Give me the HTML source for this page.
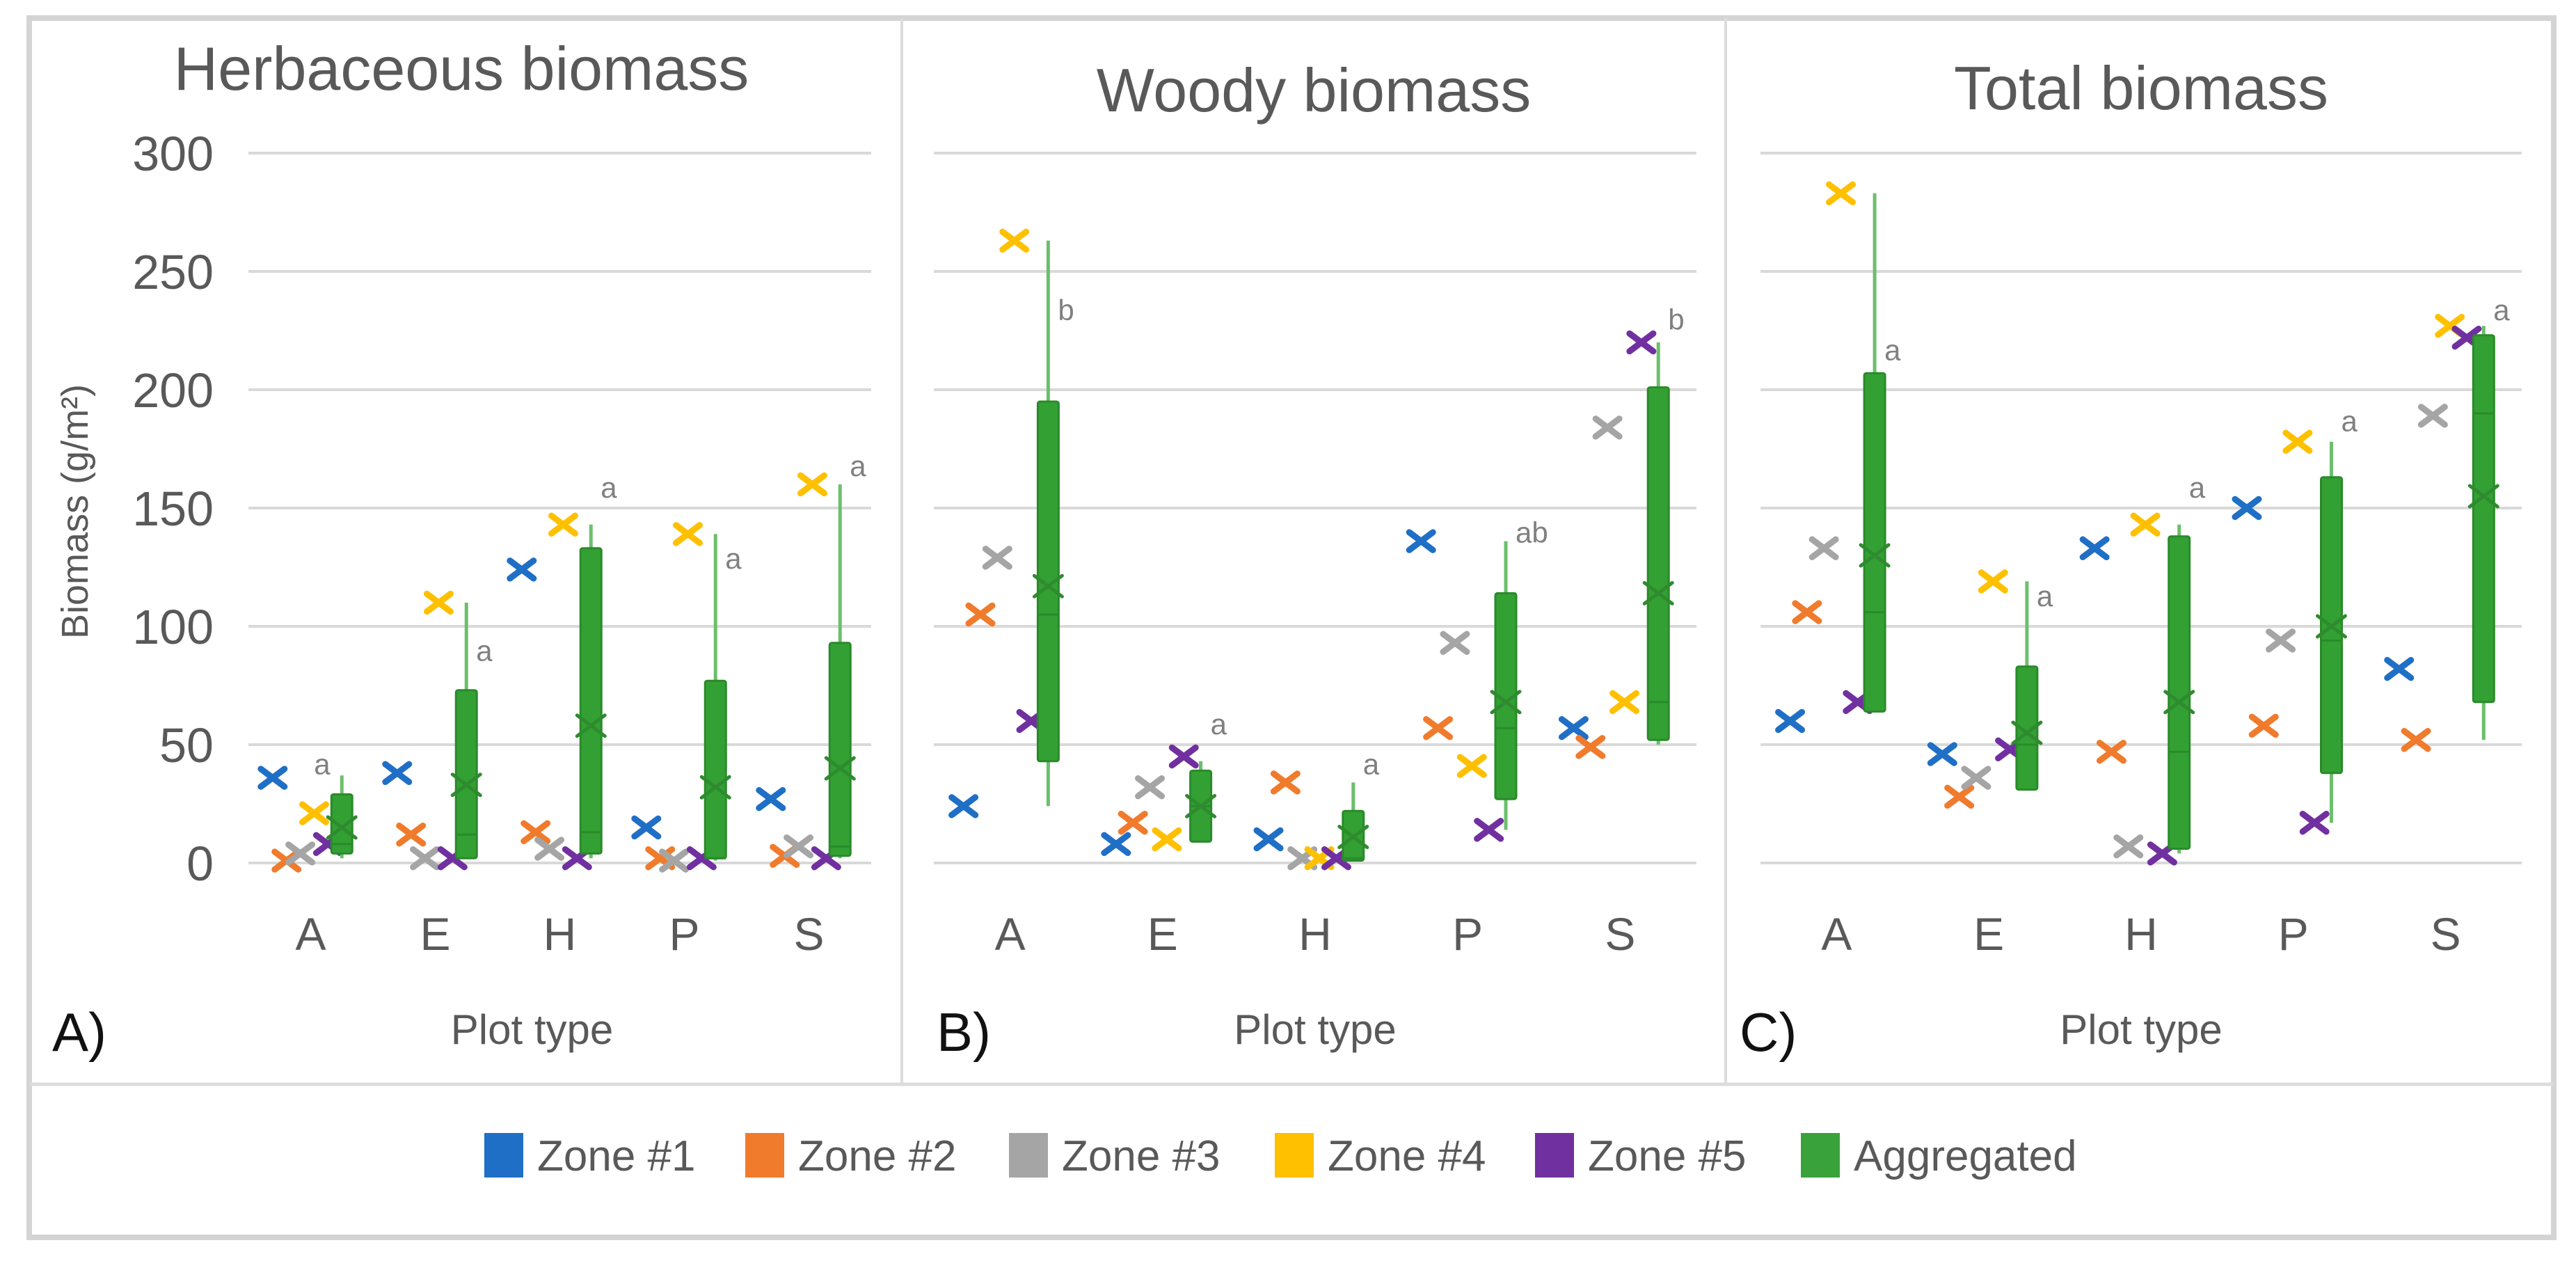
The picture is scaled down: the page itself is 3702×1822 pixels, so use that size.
<!DOCTYPE html>
<html><head><meta charset="utf-8">
<style>
html,body{margin:0;padding:0;background:#fff;}
svg{display:block;font-family:"Liberation Sans",sans-serif;}
</style></head>
<body>
<svg id="chart" width="3702" height="1822" viewBox="0 0 3702 1822" xmlns="http://www.w3.org/2000/svg">
  <rect x="0" y="0" width="3702" height="1822" fill="#fff"/>
  <rect x="42" y="26" width="3628" height="1752" fill="none" stroke="#d4d4d4" stroke-width="8"/>
  <line x1="1296" y1="26" x2="1296" y2="1556" stroke="#dcdcdc" stroke-width="4"/>
  <line x1="2480" y1="26" x2="2480" y2="1556" stroke="#dcdcdc" stroke-width="4"/>
  <line x1="42" y1="1558" x2="3670" y2="1558" stroke="#dcdcdc" stroke-width="5"/>
  <g id="panels"></g>
  <g id="legend"></g>
</svg>
<script>
// ---- data ----
const categories = ["A","E","H","P","S"];
const zoneNames = ["Zone #1","Zone #2","Zone #3","Zone #4","Zone #5","Aggregated"];
const zoneColors = ["#1f6fc6","#f07b2c","#a5a5a5","#ffc000","#7030a0","#3aa23a"];
const yTicks = [0,50,100,150,200,250,300];

// Herbaceous
const herbZ1 = [36,38,124,15,27];
const herbZ2 = [1,12,13,2,3];
const herbZ3 = [4,2,6,1,7];
const herbZ4 = [21,110,143,139,160];
const herbZ5 = [8,2,2,2,2];
const herbQ1 = [4,2,4,2,3];
const herbQ3 = [29,73,133,77,93];
const herbMin = [2,2,2,1,2];
const herbMax = [37,110,143,139,160];
const herbMean = [15,33,58,32,40];
const herbMedian = [8,12,13,2,7];
const herbLetters = ["a","a","a","a","a"];
const herbLetterVal = [41,89,158,128,167];

// Woody
const woodZ1 = [24,8,10,136,57];
const woodZ2 = [105,17,34,57,49];
const woodZ3 = [129,32,2,93,184];
const woodZ4 = [263,10,2,41,68];
const woodZ5 = [60,45,2,14,220];
const woodQ1 = [43,9,1,27,52];
const woodQ3 = [195,39,22,114,201];
const woodMin = [24,9,1,14,50];
const woodMax = [263,43,34,136,220];
const woodMean = [117,24,11,68,114];
const woodMedian = [105,24,2,57,68];
const woodLetters = ["b","a","a","ab","b"];
const woodLetterVal = [233,58,41,139,229];

// Total
const totZ1 = [60,46,133,150,82];
const totZ2 = [106,28,47,58,52];
const totZ3 = [133,36,7,94,189];
const totZ4 = [283,119,143,178,227];
const totZ5 = [68,48,4,17,222];
const totQ1 = [64,31,6,38,68];
const totQ3 = [207,83,138,163,223];
const totMin = [64,31,4,17,52];
const totMax = [283,119,143,178,227];
const totMean = [130,55,68,100,155];
const totMedian = [106,50,47,94,190];
const totLetters = ["a","a","a","a","a"];
const totLetterVal = [216,112,158,186,233];

const NS = "http://www.w3.org/2000/svg";
function mk(tag, attrs, parent){
  const e = document.createElementNS(NS, tag);
  for (const k in attrs) e.setAttribute(k, attrs[k]);
  parent.appendChild(e);
  return e;
}
const panelsG = document.getElementById("panels");

const panels = [
  {name:"herbaceous", title:"Herbaceous biomass", tag:"A)", x0:357, x1:1252, titleX:663, titleY:129, tagX:75, showY:true,
   zones:[herbZ1,herbZ2,herbZ3,herbZ4,herbZ5], q1:herbQ1,q3:herbQ3,mn:herbMin,mx:herbMax,mean:herbMean,med:herbMedian,letters:herbLetters,letterVal:herbLetterVal, letterLeftFirst:true},
  {name:"woody", title:"Woody biomass", tag:"B)", x0:1342, x1:2438, titleX:1888, titleY:160, tagX:1346, showY:false,
   zones:[woodZ1,woodZ2,woodZ3,woodZ4,woodZ5], q1:woodQ1,q3:woodQ3,mn:woodMin,mx:woodMax,mean:woodMean,med:woodMedian,letters:woodLetters,letterVal:woodLetterVal},
  {name:"total", title:"Total biomass", tag:"C)", x0:2530, x1:3624, titleX:3077, titleY:157, tagX:2500, showY:false,
   zones:[totZ1,totZ2,totZ3,totZ4,totZ5], q1:totQ1,q3:totQ3,mn:totMin,mx:totMax,mean:totMean,med:totMedian,letters:totLetters,letterVal:totLetterVal}
];
const yTop = 220, yBot = 1240;
function yScale(v){ return yBot - (v/300)*(yBot-yTop); }

function xMark(g, cx, cy, h, color, sw, name){
  const m = mk("g", {}, g);
  
  
  mk("line",{x1:cx-h,y1:cy-h*0.75,x2:cx+h,y2:cy+h*0.75,stroke:color,"stroke-width":sw,"stroke-linecap":"round"},m);
  mk("line",{x1:cx-h,y1:cy+h*0.75,x2:cx+h,y2:cy-h*0.75,stroke:color,"stroke-width":sw,"stroke-linecap":"round"},m);
  return m;
}

panels.forEach(p=>{
  const g = mk("g",{},panelsG);
  
  
  const band = (p.x1-p.x0)/categories.length;
  const xCat = i => p.x0 + band*(i+0.5);
  const step = band/9;
  yTicks.forEach(t=>{
    const l = mk("line",{x1:p.x0,x2:p.x1,y1:yScale(t),y2:yScale(t),stroke:"#d9d9d9","stroke-width":4},g);
    
    
    if (p.showY){
      const tx = mk("text",{x:307,y:yScale(t)+25,"text-anchor":"end","font-size":70,fill:"#595959"},g);
      tx.textContent = t;
      
      
    }
  });
  if (p.showY){
    const yt = mk("text",{x:0,y:0,transform:"translate(126,735) rotate(-90)","text-anchor":"middle","font-size":54,fill:"#595959"},g);
    yt.textContent = "Biomass (g/m²)";
    
    
  }
  const tt = mk("text",{x:p.titleX,y:p.titleY,"text-anchor":"middle","font-size":88,fill:"#595959"},g);
  tt.textContent = p.title;
  
  
  categories.forEach((c,i)=>{
    const xl = mk("text",{x:xCat(i),y:1365,"text-anchor":"middle","font-size":66,fill:"#595959"},g);
    xl.textContent = c;
    
    
  });
  const xt = mk("text",{x:(p.x0+p.x1)/2 + (p.showY?-40:0),y:1500,"text-anchor":"middle","font-size":60,fill:"#595959"},g);
  xt.textContent = "Plot type";
  
  
  const tg = mk("text",{x:p.tagX,y:1510,"font-size":78,fill:"#111"},g);
  tg.textContent = p.tag;
  
  

  categories.forEach((c,i)=>{
    p.zones.forEach((arr,j)=>{
      const cx = xCat(i) + (j-2.75)*step;
      xMark(g, cx, yScale(arr[i]), 17, zoneColors[j], 9, 'zone-' + (j+1) + '-marker');
    });
    const bx = xCat(i) + 2.25*step;
    const bw = 30;
    const wh = mk("line",{x1:bx,x2:bx,y1:yScale(p.mx[i]),y2:yScale(p.mn[i]),stroke:"#6cbf6c","stroke-width":5},g);
    
    
    const box = mk("rect",{x:bx-bw/2,y:yScale(p.q3[i]),width:bw,height:yScale(p.q1[i])-yScale(p.q3[i]),fill:"#33a033",stroke:"#2a8a2a","stroke-width":3,rx:3},g);
    
    
    const md = mk("line",{x1:bx-bw/2,x2:bx+bw/2,y1:yScale(p.med[i]),y2:yScale(p.med[i]),stroke:"#2a8a2a","stroke-width":3},g);
    
    
    xMark(g, bx, yScale(p.mean[i]), 20, "#2e8b2e", 5, 'mean-marker');
    let lx = bx + 14;
    if (p.letterLeftFirst && i===0) lx = bx - 40;
    const lt = mk("text",{x:lx,y:yScale(p.letterVal[i])+12,"font-size":42,fill:"#808080"},g);
    lt.textContent = p.letters[i];
    
    
  });
});

const legendX = [696,1071,1450,1832,2206,2588];
const lg = document.getElementById("legend");
zoneNames.forEach((n,j)=>{
  const it = mk("g",{},lg);
  
  
  mk("rect",{x:legendX[j],y:1628,width:56,height:64,fill:zoneColors[j]},it);
  const t = mk("text",{x:legendX[j]+76,y:1682,"font-size":62,fill:"#595959"},it);
  t.textContent = n;
});
</script>
</body></html>
